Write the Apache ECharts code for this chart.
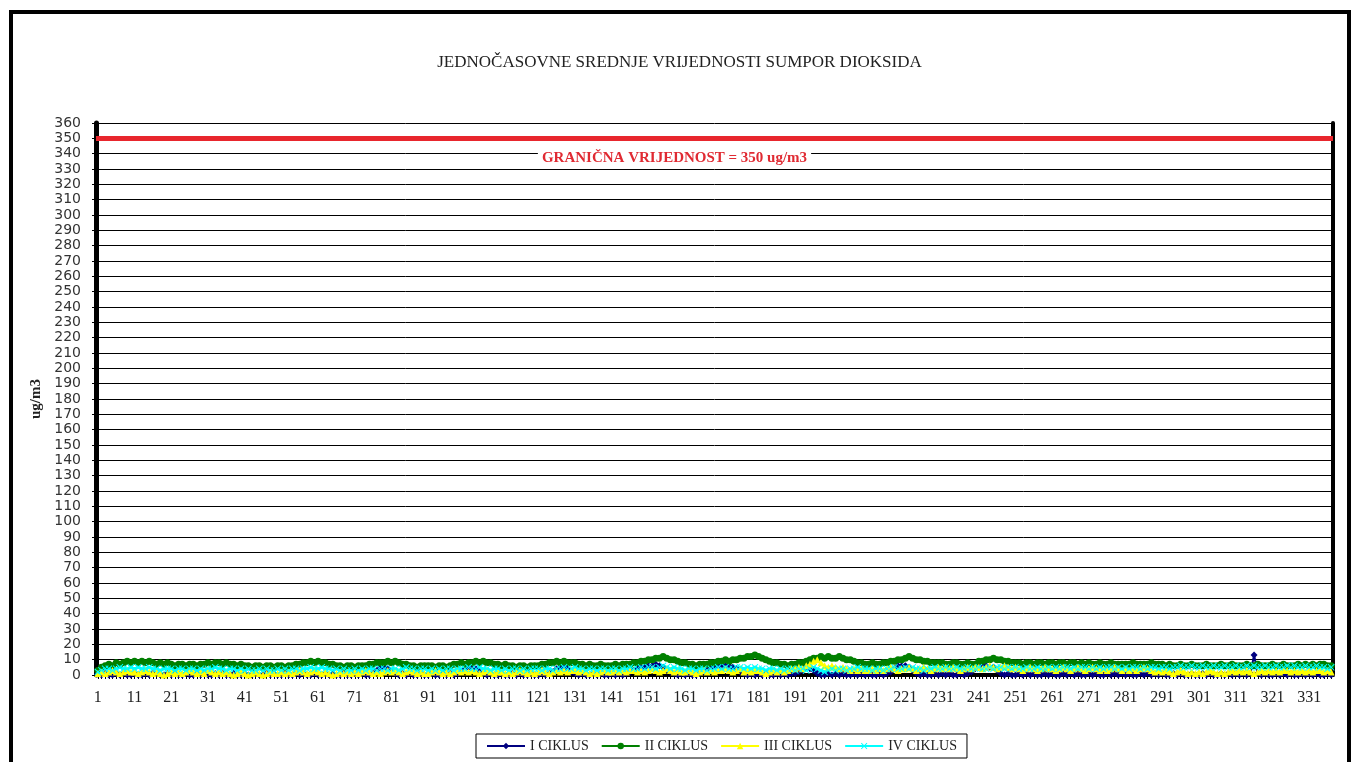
<!DOCTYPE html>
<html>
<head>
<meta charset="utf-8">
<script src="https://cdn.jsdelivr.net/npm/echarts@6/dist/echarts.min.js"></script>
<style>
  html, body { margin: 0; padding: 0; background: #fff; }
  #chart { width: 1359px; height: 762px; }
</style>
</head>
<body>
<div id="chart"></div>
<script>
// hourly SO2 means, ug/m3
var hours = [];
for (var h = 1; h <= 337; h++) hours.push(String(h));

var ciklus1 = [
  1,0,1,0,0,1,0,1,0,0, 1,0,0,1,0,1,1,0,0,1, 0,1,0,0,1,0,0,1,0,1,
  0,0,1,0,1,0,0,1,0,0, 1,0,0,1,0,0,1,0,1,0, 0,1,0,0,1,0,1,0,0,1,
  0,0,1,0,1,0,0,1,0,0, 1,0,1,0,0,1,3,5,5,4, 2,1,0,1,0,1,0,0,1,0,
  0,1,0,0,1,0,1,0,1,2, 4,5,5,4,2,1,0,1,0,0, 1,0,0,1,0,1,0,0,1,0,
  0,1,0,1,2,4,5,5,4,2, 1,0,1,0,0,1,0,1,0,0, 1,0,1,0,1,2,3,4,5,5,
  6,6,7,6,5,3,2,1,0,1, 0,1,0,0,1,2,3,5,6,6, 6,6,6,5,4,2,1,0,1,0,
  1,0,1,0,0,1,0,1,0,1, 1,2,3,5,4,3,1,0,0,1, 0,1,0,1,0,0,1,0,1,0,
  1,0,0,1,0,1,2,4,6,6, 6,5,3,1,0,1,0,0,1,0, 1,0,1,0,0,1,0,1,2,4,
  5,6,6,5,5,3,1,0,1,0, 0,1,0,1,0,1,0,0,1,0, 1,0,0,1,0,1,0,1,0,0,
  1,0,1,0,0,1,0,1,0,1, 0,1,0,0,1,0,1,0,1,0, 1,0,0,1,0,1,0,0,1,0,
  0,1,0,1,0,0,1,0,1,0, 1,0,1,0,1,13,1,0,1,0, 0,1,0,1,0,1,0,0,1,0,
  1,0,1,0,0,1,0
];
var ciklus2 = [
  3,5,6,7,6,8,7,8,9,8, 9,8,9,8,9,8,7,8,7,8, 7,6,7,7,6,7,7,6,7,7,
  8,7,8,8,7,8,7,7,6,7, 6,6,5,6,6,5,6,6,5,6, 6,5,6,6,7,7,8,8,9,8,
  9,8,8,7,7,6,6,5,6,6, 5,6,6,6,7,7,8,8,8,9, 8,9,8,7,7,6,6,5,6,6,
  6,6,5,6,6,5,6,7,7,8, 7,8,8,9,8,9,8,8,7,7, 6,7,6,6,5,6,6,5,6,6,
  6,7,7,8,8,9,8,9,8,8, 8,7,7,6,7,6,6,7,6,6, 6,7,6,7,7,7,8,8,9,9,
  10,10,11,11,12,11,10,10,9,8, 8,7,7,6,7,7,7,8,8,9, 9,10,9,10,10,11,11,12,12,13,
  12,11,10,9,8,8,7,7,6,7, 7,8,8,9,10,11,11,12,11,12, 11,11,12,11,10,10,9,8,8,7,
  7,8,7,7,8,8,9,9,10,10, 11,12,11,10,10,9,9,8,8,8, 8,7,7,8,8,7,7,8,7,7,
  9,9,10,10,11,10,10,9,9,8, 8,8,7,8,8,7,8,8,7,8, 8,7,8,8,7,8,8,7,8,7,
  8,7,7,8,7,7,8,7,7,7, 7,7,8,7,7,7,7,8,7,7, 7,6,7,6,6,7,6,6,7,6,
  6,6,7,6,6,6,7,6,6,7, 6,6,6,7,6,6,7,6,6,6, 7,6,6,7,6,6,6,7,6,7,
  6,7,6,7,7,6,6
];
var ciklus3 = [
  1,2,1,2,3,2,1,2,3,2, 2,1,2,3,2,1,2,1,0,1, 2,1,2,1,2,3,2,1,2,1,
  3,2,1,2,1,2,1,0,1,2, 1,0,1,2,1,0,1,2,1,1, 2,1,2,1,2,3,2,1,2,3,
  2,1,2,1,0,1,2,1,2,1, 2,1,2,3,2,1,2,1,2,3, 2,3,2,1,2,3,2,1,2,1,
  1,2,3,2,1,2,1,2,3,2, 3,2,3,2,1,2,3,2,1,2, 2,1,2,1,2,3,2,1,2,1,
  2,3,2,1,2,3,2,3,2,3, 3,2,3,2,1,2,1,2,3,2, 2,3,2,3,2,3,3,2,3,2,
  3,4,3,2,3,4,3,2,3,2, 2,3,2,1,2,3,2,3,2,3, 3,4,3,2,3,4,2,3,2,3,
  3,2,1,2,3,2,3,2,3,4, 4,5,4,6,7,9,10,8,6,5, 6,5,4,5,4,3,4,3,4,3,
  3,4,3,4,3,4,5,4,3,4, 4,5,4,3,4,5,4,3,4,5, 4,5,4,5,4,3,4,5,4,5,
  5,4,5,6,5,4,5,6,5,4, 5,4,3,4,5,4,3,4,5,4, 4,3,4,5,4,3,4,5,4,3,
  4,5,4,3,4,3,4,5,4,3, 4,3,4,3,4,5,4,3,2,3, 2,3,2,1,2,3,2,1,2,1,
  2,1,2,3,2,1,2,1,2,3, 2,3,2,3,2,1,2,3,2,3, 2,3,2,3,3,2,3,2,3,2,
  3,2,3,3,2,3,2
];
var ciklus4 = [
  2,3,4,4,3,4,5,4,4,5, 4,5,4,4,5,4,4,3,4,4, 4,3,4,4,3,4,4,3,4,3,
  4,4,5,4,4,3,4,4,3,4, 3,4,3,3,4,3,4,3,3,4, 3,4,3,4,4,3,4,4,5,4,
  4,5,4,4,3,4,3,4,3,3, 4,3,4,3,4,4,3,4,4,3, 4,4,3,4,5,4,4,3,4,4,
  3,4,3,4,3,4,4,3,4,4, 4,5,4,4,5,4,4,3,4,4, 3,4,3,4,4,3,4,3,4,4,
  4,3,4,4,3,4,4,5,4,4, 5,4,4,3,4,4,3,4,4,3, 4,4,3,4,4,5,4,4,5,4,
  5,5,4,5,6,5,4,5,4,4, 3,4,4,3,4,4,3,4,4,5, 4,5,4,4,5,5,4,5,4,5,
  4,4,3,4,4,3,4,3,4,4, 3,4,4,3,4,5,4,3,2,3, 4,3,4,4,3,4,4,5,4,4,
  4,3,4,4,3,4,4,5,4,4, 5,4,5,4,4,3,4,4,5,4, 4,5,4,4,5,4,4,5,4,4,
  5,4,4,5,4,5,5,4,5,4, 5,4,4,5,4,4,5,4,4,5, 4,5,4,5,5,4,5,4,5,5,
  4,5,4,5,4,5,5,4,5,4, 5,4,5,5,4,5,4,5,5,4, 5,5,4,5,5,6,5,5,6,5,
  5,6,5,5,6,5,5,6,5,5, 6,5,5,6,5,6,5,5,6,5, 5,6,5,5,6,5,6,5,5,6,
  5,5,6,5,5,4,5
];
var seriesNames = ['I CIKLUS', 'II CIKLUS', 'III CIKLUS', 'IV CIKLUS'];
var limitValue = 350;

var xMark = 'path://M0,1L1,0L5,4L9,0L10,1L6,5L10,9L9,10L5,6L1,10L0,9L4,5Z';

function lineSeries(name, data, color, symbol, size, width) {
  return {
    name: name,
    type: 'line',
    data: data,
    symbol: symbol,
    symbolSize: size,
    showAllSymbol: true,
    lineStyle: { color: color, width: width },
    itemStyle: { color: color },
    emphasis: { disabled: true },
    animation: false
  };
}

var chart = echarts.init(document.getElementById('chart'));
var s1 = lineSeries(seriesNames[0], ciklus1, '#000080', 'diamond', 7, 2);
s1.markLine = {
  silent: true,
  symbol: ['none', 'none'],
  lineStyle: { color: '#e8262d', width: 5, type: 'solid' },
  label: {
    position: 'insideMiddleBottom',
    distance: 10,
    offset: [-40, 0],
    formatter: 'GRANIČNA VRIJEDNOST = ' + limitValue + ' ug/m3',
    color: '#e02a32',
    fontFamily: 'Liberation Serif',
    fontWeight: 'bold',
    fontSize: 15,
    backgroundColor: '#fff',
    padding: [2, 4]
  },
  data: [{ yAxis: limitValue }]
};

chart.setOption({
  animation: false,
  title: {
    text: 'JEDNOČASOVNE SREDNJE VRIJEDNOSTI SUMPOR DIOKSIDA',
    left: 'center',
    top: 49,
    textStyle: { fontFamily: 'Liberation Serif', fontWeight: 'normal', fontSize: 17, color: '#222' }
  },
  graphic: [{
    type: 'rect',
    shape: { x: 11, y: 12, width: 1338, height: 780 },
    style: { fill: 'none', stroke: '#000', lineWidth: 4 },
    silent: true
  }],
  legend: {
    bottom: 4,
    left: 476,
    data: seriesNames,
    itemWidth: 38,
    itemHeight: 8,
    itemGap: 12,
    borderColor: '#000',
    borderWidth: 1,
    padding: [5, 10],
    textStyle: { fontFamily: 'Liberation Serif', fontSize: 14, color: '#222' }
  },
  grid: { left: 96, right: 26, top: 123, bottom: 87 },
  xAxis: [{
    type: 'category',
    data: hours,
    boundaryGap: true,
    axisLine: { lineStyle: { color: '#000', width: 1 } },
    axisTick: { show: true, interval: 0, length: 4, alignWithLabel: true, lineStyle: { color: '#000' } },
    axisLabel: { interval: 9, margin: 15, fontFamily: 'Liberation Serif', fontSize: 16, color: '#222' },
    splitLine: { show: false }
  }, {
    type: 'category',
    data: hours,
    position: 'top',
    axisLine: { lineStyle: { color: '#000', width: 4 } },
    axisTick: { show: false },
    axisLabel: { show: false }
  }],
  yAxis: [{
    type: 'value',
    min: 0,
    max: 360,
    interval: 10,
    name: 'ug/m3',
    nameLocation: 'middle',
    nameGap: 47,
    nameTextStyle: { fontFamily: 'Liberation Serif', fontWeight: 'bold', fontSize: 15, color: '#222' },
    axisLine: { show: true, lineStyle: { color: '#000', width: 5 } },
    axisTick: { show: true, length: 4, lineStyle: { color: '#000' } },
    axisLabel: { margin: 15, fontFamily: 'DejaVu Sans', fontSize: 14, color: '#333' },
    splitLine: { lineStyle: { color: '#000', width: 1 } }
  }, {
    type: 'value',
    min: 0,
    max: 360,
    interval: 10,
    position: 'right',
    axisLine: { show: true, lineStyle: { color: '#000', width: 4 } },
    axisTick: { show: false },
    axisLabel: { show: false },
    splitLine: { show: false }
  }],
  series: [
    s1,
    lineSeries(seriesNames[1], ciklus2, '#008000', 'circle', 7, 3),
    lineSeries(seriesNames[2], ciklus3, '#ffff00', 'triangle', 7, 2),
    lineSeries(seriesNames[3], ciklus4, '#00ffff', xMark, 7, 3)
  ]
});
</script>
</body>
</html>
